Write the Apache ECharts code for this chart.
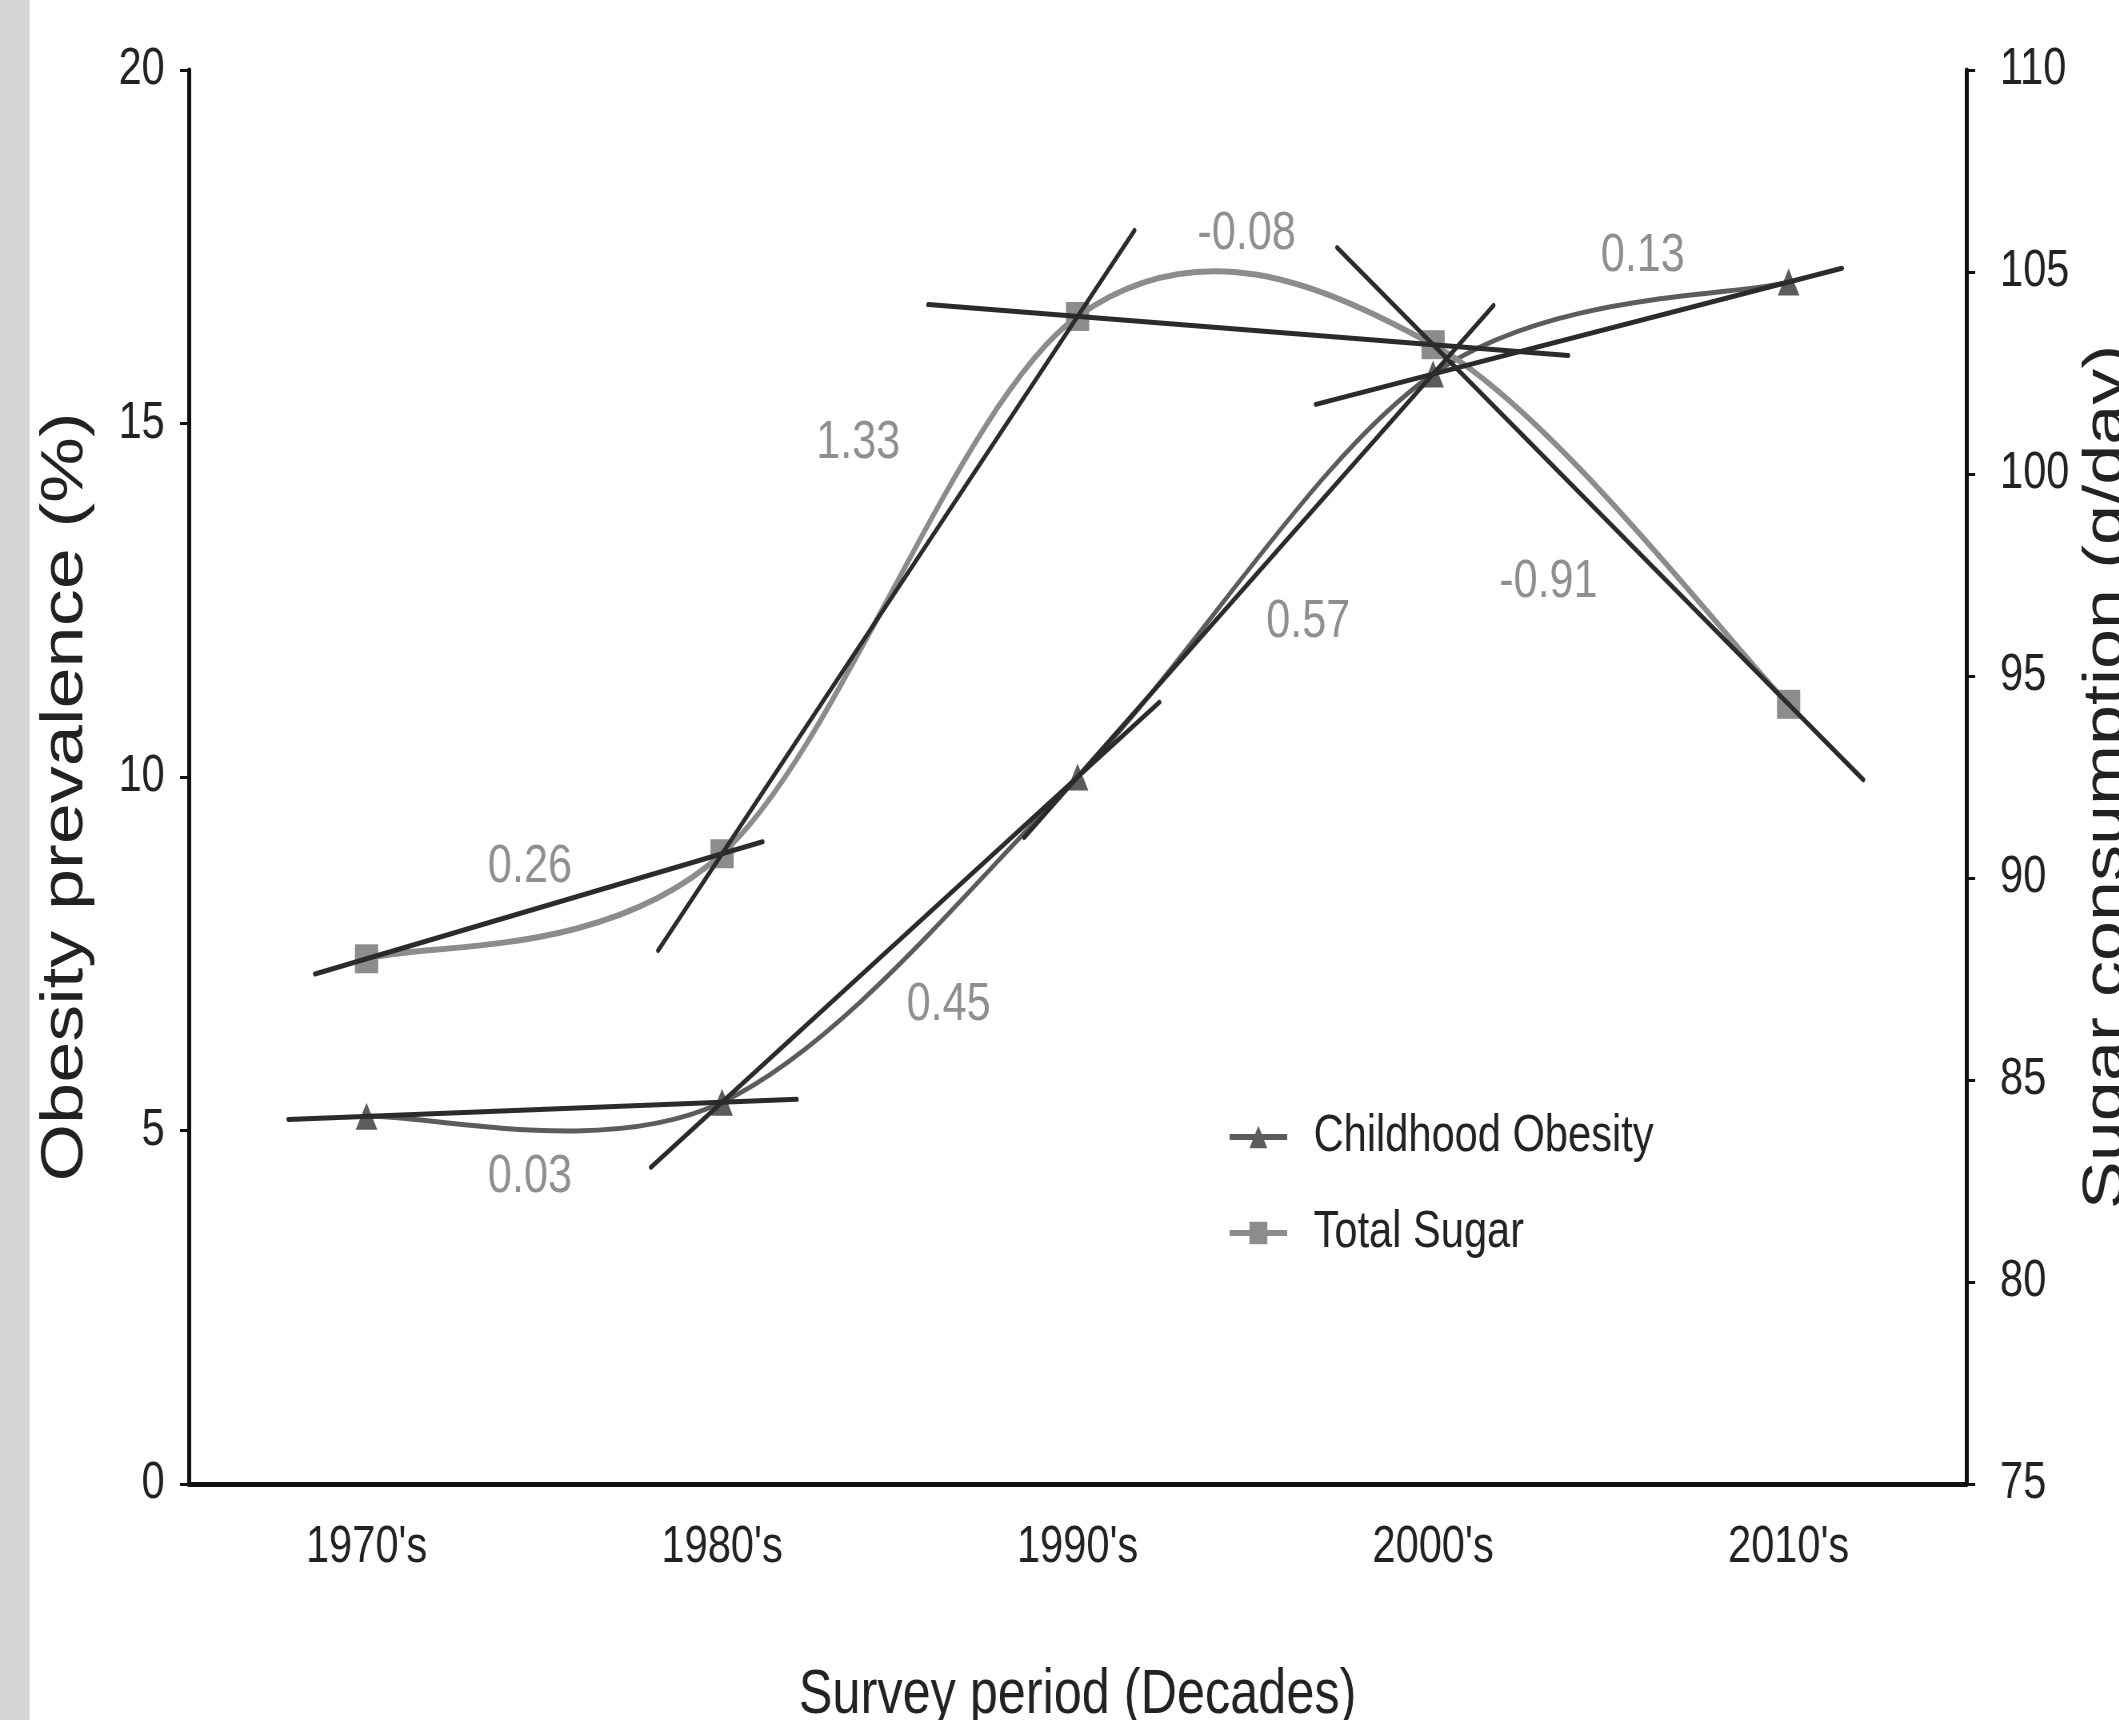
<!DOCTYPE html>
<html>
<head>
<meta charset="utf-8">
<title>Childhood obesity and total sugar by decade</title>
<script src="https://cdn.jsdelivr.net/npm/echarts@6/dist/echarts.min.js"></script>
<style>
html,body{margin:0;padding:0;background:#fff;overflow:hidden;width:2119px;height:1720px;}
/* the original figure is squeezed sideways, so the chart is drawn wider and squeezed the same way */
#chart{width:2649px;height:1720px;transform:scaleX(0.8);transform-origin:0 0;}
</style>
</head>
<body>
<div id="chart"></div>
<script>
// data
var decades = ["1970's", "1980's", "1990's", "2000's", "2010's"];
var obesity = [5.2, 5.4, 10.0, 15.7, 17.0];        // % (left axis)
var sugar = [88.0, 90.6, 103.9, 103.2, 94.3];      // g/day (right axis)
var obesitySlopes = ["0.03", "0.45", "0.57", "0.13"];
var sugarSlopes = ["0.26", "1.33", "-0.08", "-0.91"];

// how far each trend line runs past its two decades (in decade units)
var obesityReach = [[0.22, 0.21], [0.20, 0.23], [0.15, 0.17], [0.33, 0.15]];
var sugarReach = [[0.145, 0.114], [0.18, 0.16], [0.42, 0.38], [0.27, 0.21]];
// where the slope numbers sit, pixel offset from the segment middle
var obesityLabelShift = [[-18, 68], [61, 65], [66, 47], [40, -72]];
var sugarLabelShift = [[-18, -39], [-52, -142], [-11, -96], [-78, 58]];

var FONT = "'Liberation Sans', Arial, sans-serif";

function points(vals){
	var arr = [];
	for(var i=0;i<vals.length;i++){
		arr.push([i, vals[i]]);
	}
	return arr;
}

// straight line through decade i and i+1, stretched a little past both
function trendLine(vals, i, reach){
	var k = vals[i+1] - vals[i];
	return [
		[i - reach[0], vals[i] - k*reach[0]],
		[i + 1 + reach[1], vals[i+1] + k*reach[1]]
	];
}

function labelPoints(vals, texts, shifts){
	var arr = [];
	for(var i=0;i<texts.length;i++){
		arr.push({
			value: [i + 0.5, (vals[i] + vals[i+1]) / 2],
			label: {formatter: texts[i], offset: shifts[i]}
		});
	}
	return arr;
}

// spreadsheet-style smoothed line (catmull-rom through the data points)
function curveSeries(vals, yIndex, color, width){
	return {
		type: 'custom',
		xAxisIndex: 1,
		yAxisIndex: yIndex,
		silent: true,
		z: 1,
		data: points(vals).slice(0, vals.length - 1),
		renderItem: function(params, api){
			var i = params.dataIndex;
			var p = function(k){
				k = Math.max(0, Math.min(vals.length - 1, k));
				return api.coord([k, vals[k]]);
			};
			var p0 = p(i-1), p1 = p(i), p2 = p(i+1), p3 = p(i+2);
			return {
				type: 'bezierCurve',
				shape: {
					x1: p1[0], y1: p1[1], x2: p2[0], y2: p2[1],
					cpx1: p1[0] + (p2[0] - p0[0]) / 6, cpy1: p1[1] + (p2[1] - p0[1]) / 6,
					cpx2: p2[0] - (p3[0] - p1[0]) / 6, cpy2: p2[1] - (p3[1] - p1[1]) / 6
				},
				style: {stroke: color, lineWidth: width, fill: null}
			};
		}
	};
}

var series = [
	curveSeries(obesity, 0, '#5c5c5c', 5),
	curveSeries(sugar, 1, '#8c8c8c', 6),
	{
		name: 'Childhood Obesity',
		type: 'line',
		xAxisIndex: 1,
		yAxisIndex: 0,
		data: points(obesity),
		symbol: 'triangle',
		symbolSize: 27,
		lineStyle: {color: '#5c5c5c', width: 4, opacity: 0},
		itemStyle: {color: '#5c5c5c'},
		z: 2
	},
	{
		name: 'Total Sugar',
		type: 'line',
		xAxisIndex: 1,
		yAxisIndex: 1,
		data: points(sugar),
		symbol: 'rect',
		symbolSize: 29,
		lineStyle: {color: '#8c8c8c', width: 5, opacity: 0},
		itemStyle: {color: '#8c8c8c'},
		z: 2
	}
];

for(var i=0;i<obesity.length-1;i++){
	series.push({
		type: 'line', xAxisIndex: 1, yAxisIndex: 0, silent: true,
		data: trendLine(obesity, i, obesityReach[i]),
		symbol: 'none',
		lineStyle: {color: '#2b2b2b', width: 5, cap: 'round'},
		z: 3
	});
	series.push({
		type: 'line', xAxisIndex: 1, yAxisIndex: 1, silent: true,
		data: trendLine(sugar, i, sugarReach[i]),
		symbol: 'none',
		lineStyle: {color: '#2b2b2b', width: 5, cap: 'round'},
		z: 3
	});
}

var slopeLabel = {
	show: true,
	position: 'inside',
	color: '#737373',
	fontSize: 54,
	fontFamily: FONT
};
series.push({
	type: 'scatter', xAxisIndex: 1, yAxisIndex: 0, silent: true,
	symbolSize: 1, itemStyle: {color: 'rgba(0,0,0,0)'},
	label: slopeLabel,
	data: labelPoints(obesity, obesitySlopes, obesityLabelShift),
	z: 4
});
series.push({
	type: 'scatter', xAxisIndex: 1, yAxisIndex: 1, silent: true,
	symbolSize: 1, itemStyle: {color: 'rgba(0,0,0,0)'},
	label: slopeLabel,
	data: labelPoints(sugar, sugarSlopes, sugarLabelShift),
	z: 4
});

var myChart = echarts.init(document.getElementById('chart'));
var option = {
	backgroundColor: '#ffffff',
	animation: false,
	graphic: [{
		type: 'rect',
		left: 0, top: 0,
		shape: {width: 37, height: 1720},
		style: {fill: '#d6d6d6'}
	}],
	grid: {
		left: 236, right: 191, top: 70, bottom: 236,
		containLabel: false,
		outerBoundsMode: 'none'
	},
	legend: {
		data: ['Childhood Obesity', 'Total Sugar'],
		orient: 'vertical',
		left: 1529,
		top: 1106,
		itemWidth: 72,
		itemHeight: 28,
		itemGap: 44,
		lineStyle: {width: 6, opacity: 1},
		textStyle: {fontSize: 52, fontFamily: FONT, color: '#222', padding: [0, 0, 0, 28]}
	},
	xAxis: [
		{
			type: 'category',
			data: decades,
			boundaryGap: true,
			position: 'bottom',
			axisLine: {onZero: false, lineStyle: {color: '#111', width: 5}},
			axisTick: {alignWithLabel: true, length: 10, lineStyle: {color: '#111', width: 3}},
			axisLabel: {fontSize: 52, fontFamily: FONT, color: '#222', margin: 38},
			splitLine: {show: false},
			name: 'Survey period (Decades)',
			nameLocation: 'middle',
			nameGap: 180,
			nameTextStyle: {fontSize: 63, fontFamily: FONT, color: '#222'}
		},
		{
			type: 'value',
			min: -0.5,
			max: 4.5,
			show: false
		}
	],
	yAxis: [
		{
			type: 'value',
			position: 'left',
			min: 0, max: 20, interval: 5,
			axisLine: {show: true, onZero: false, lineStyle: {color: '#111', width: 5}},
			axisTick: {show: true, length: 11, lineStyle: {color: '#111', width: 3}},
			axisLabel: {fontSize: 52, fontFamily: FONT, color: '#222', margin: 30},
			splitLine: {show: false},
			name: 'Obesity prevalence (%)',
			nameLocation: 'middle',
			nameGap: 116,
			nameTextStyle: {fontSize: 74, fontFamily: FONT, color: '#222', padding: [0, 40, 0, 0]}
		},
		{
			type: 'value',
			position: 'right',
			min: 75, max: 110, interval: 5,
			axisLine: {show: true, onZero: false, lineStyle: {color: '#111', width: 5}},
			axisTick: {show: true, length: 11, lineStyle: {color: '#111', width: 3}},
			axisLabel: {fontSize: 52, fontFamily: FONT, color: '#222', margin: 42},
			splitLine: {show: false},
			name: 'Sugar consumption (g/day)',
			nameLocation: 'middle',
			nameGap: 132,
			nameTextStyle: {fontSize: 72, fontFamily: FONT, color: '#222'}
		}
	],
	series: series
};
myChart.setOption(option);
</script>
</body>
</html>
